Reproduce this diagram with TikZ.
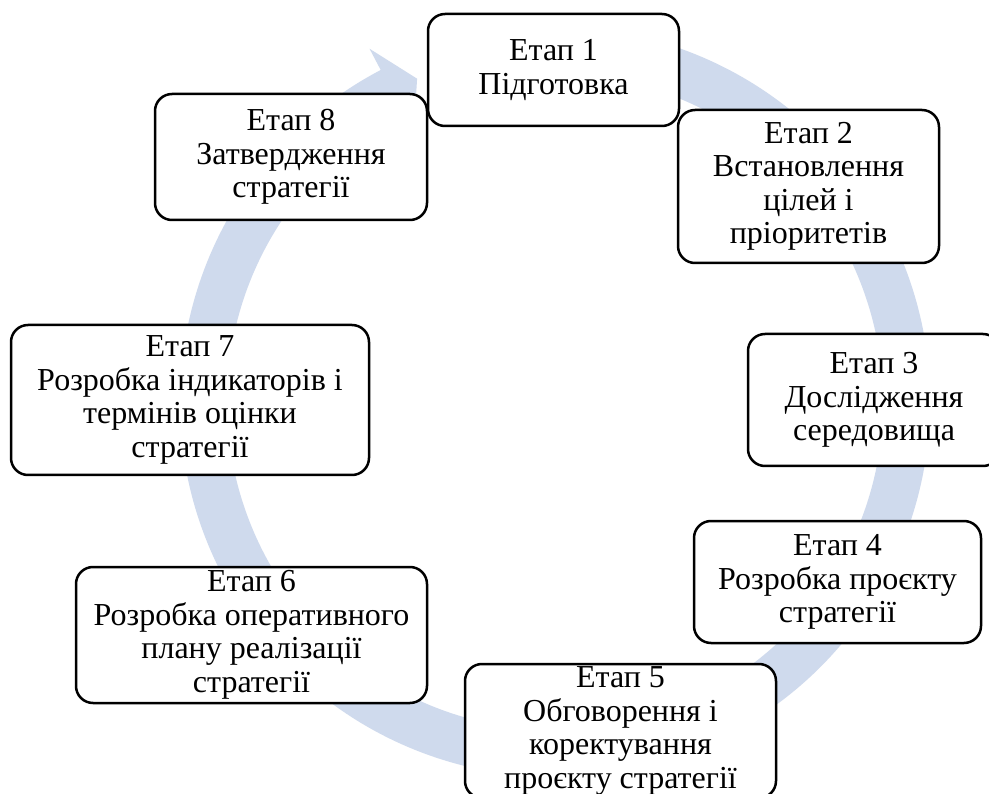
\documentclass[tikz,border=0pt]{standalone}
\usepackage{fontspec}
\setmainfont{Liberation Serif}
\usetikzlibrary{calc}
\definecolor{ringblue}{RGB}{207,218,237}
\tikzset{
  stagebox/.style={draw=black, line width=2.5pt, fill=white, rounded corners=17pt,
    align=center, inner sep=0pt, font=\fontsize{32}{33.5}\selectfont}
}
\begin{document}
\begin{tikzpicture}[x=1pt,y=-1pt]
\useasboundingbox (0,0) rectangle (989,794);
\clip (0,0) rectangle (989,794);
\fill[white] (0,0) rectangle (989,794);
\coordinate (c) at (555,402);
% circular arrow
\fill[ringblue] ($(c)+(-108:328)$) arc[start angle=-108,end angle=242.3,radius=328]
  -- ($(c)+(242.3:304)$) -- ($(c)+(246.9:351.5)$) -- ($(c)+(242.3:399)$)
  -- ($(c)+(242.3:375)$) arc[start angle=242.3,end angle=-108,radius=375] -- cycle;
% stages
\node[stagebox, minimum width=251pt, minimum height=112pt] (s1) at (553.5,70) {Етап 1\\Підготовка};
\node[stagebox, minimum width=261pt, minimum height=153pt] (s2) at (808.5,186.5) {Етап 2\\Встановлення\\цілей і\\пріоритетів};
\node[stagebox, minimum width=252pt, minimum height=132pt] (s3) at (874,400) {Етап 3\\Дослідження\\середовища};
\node[stagebox, minimum width=287pt, minimum height=122pt] (s4) at (837.5,582) {Етап 4\\Розробка проєкту\\стратегії};
\node[stagebox, minimum width=311pt, minimum height=134pt] (s5) at (620.5,731) {Етап 5\\Обговорення і\\коректування\\проєкту стратегії};
\node[stagebox, minimum width=351pt, minimum height=136pt] (s6) at (251.5,635) {Етап 6\\Розробка оперативного\\плану реалізації\\стратегії};
\node[stagebox, minimum width=358pt, minimum height=150pt] (s7) at (190,400) {Етап 7\\Розробка індикаторів і\\термінів оцінки\\стратегії};
\node[stagebox, minimum width=272pt, minimum height=126pt] (s8) at (291,157) {Етап 8\\Затвердження\\стратегії};
\end{tikzpicture}
\end{document}
